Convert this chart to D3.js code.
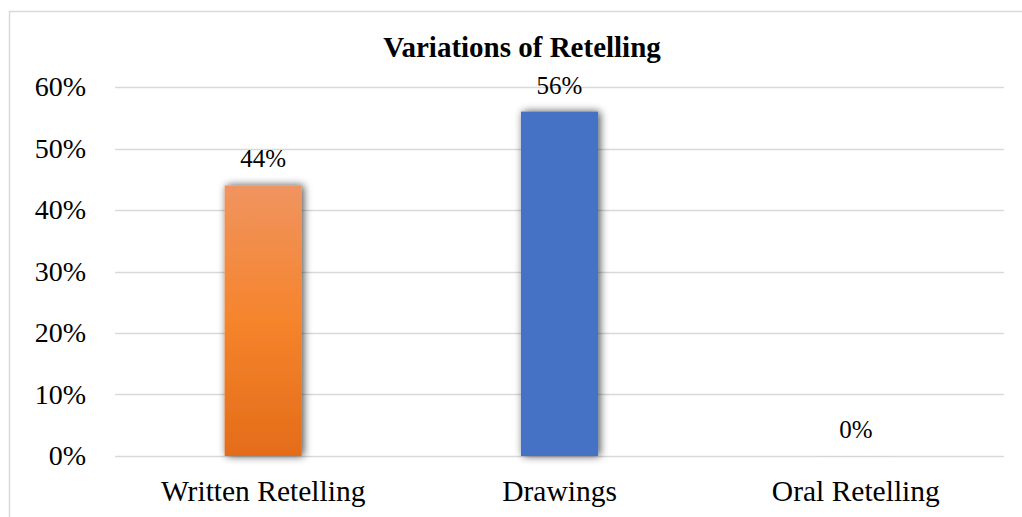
<!DOCTYPE html>
<html>
<head>
<meta charset="utf-8">
<script src="https://cdn.jsdelivr.net/npm/d3@7"></script>
<style>
  body { margin: 0; background: #fff; }
  svg text { font-family: "Liberation Serif", "DejaVu Serif", serif; }
</style>
</head>
<body>
<div id="chart"></div>
<script>
// chart data
var categories = ['Written Retelling', 'Drawings', 'Oral Retelling'];
var values = [0.44, 0.56, 0.00];
var yTicks = [0, 0.1, 0.2, 0.3, 0.4, 0.5, 0.6];

var width = 1022, height = 517;
var margin = { top: 87, right: 18, bottom: 61, left: 115 };

var svg = d3.select('#chart').append('svg')
  .attr('width', width)
  .attr('height', height);

var defs = svg.append('defs');

//orange bar gets a vertical gradient
var grad = defs.append('linearGradient')
  .attr('id', 'orangeGrad')
  .attr('x1', 0).attr('y1', 0).attr('x2', 0).attr('y2', 1);
grad.append('stop').attr('offset', '0%').attr('stop-color', '#f09460');
grad.append('stop').attr('offset', '50%').attr('stop-color', '#f5842c');
grad.append('stop').attr('offset', '100%').attr('stop-color', '#e46c19');

//soft shadow around the bars
var shadow = defs.append('filter')
  .attr('id', 'shadow')
  .attr('x', '-30%').attr('y', '-30%')
  .attr('width', '160%').attr('height', '160%');
shadow.append('feGaussianBlur').attr('in', 'SourceAlpha').attr('stdDeviation', 4);
shadow.append('feOffset').attr('dx', 1.5).attr('dy', 0).attr('result', 'blur');
shadow.append('feComponentTransfer').append('feFuncA').attr('type', 'linear').attr('slope', 0.7);
var merge = shadow.append('feMerge');
merge.append('feMergeNode');
merge.append('feMergeNode').attr('in', 'SourceGraphic');

//outer chart border
svg.append('rect')
  .attr('x', 9.5).attr('y', 11.5)
  .attr('width', 1030).attr('height', 600)
  .attr('fill', 'none')
  .attr('stroke', '#d9d9d9')
  .attr('stroke-width', 1.5);

var x = d3.scaleBand()
  .domain(categories)
  .range([margin.left, width - margin.right])
  .paddingInner(0.74)
  .paddingOuter(0.37);

var y = d3.scaleLinear()
  .domain([0, 0.6])
  .range([height - margin.bottom, margin.top]);

//gridlines
svg.append('g')
  .selectAll('line')
  .data(yTicks)
  .enter()
  .append('line')
  .attr('x1', margin.left)
  .attr('x2', width - margin.right)
  .attr('y1', function (d) { return Math.round(y(d)) + 0.5; })
  .attr('y2', function (d) { return Math.round(y(d)) + 0.5; })
  .attr('stroke', '#d9d9d9')
  .attr('stroke-width', 1.5);

//y axis labels
var yAxis = d3.axisLeft(y)
  .tickValues(yTicks)
  .tickFormat(d3.format('.0%'))
  .tickSize(0)
  .tickPadding(29);

svg.append('g')
  .attr('transform', 'translate(' + margin.left + ',0)')
  .call(yAxis)
  .call(function (g) { g.select('.domain').remove(); })
  .selectAll('text')
  .attr('font-size', 28)
  .attr('fill', '#000');

//x axis labels
var xAxis = d3.axisBottom(x).tickSize(0).tickPadding(24);

svg.append('g')
  .attr('transform', 'translate(0,' + (height - margin.bottom) + ')')
  .call(xAxis)
  .call(function (g) { g.select('.domain').remove(); })
  .selectAll('text')
  .attr('font-size', 29.5)
  .attr('fill', '#000');

var barColors = ['url(#orangeGrad)', '#4472c4', '#a5a5a5'];

//bars
svg.append('g')
  .selectAll('rect')
  .data(values)
  .enter()
  .append('rect')
  .attr('x', function (d, i) { return x(categories[i]); })
  .attr('y', function (d) { return y(d); })
  .attr('width', x.bandwidth())
  .attr('height', function (d) { return Math.max(0.5, y(0) - y(d)); })
  .attr('fill', function (d, i) { return barColors[i]; })
  .attr('fill-opacity', function (d) { return d > 0 ? 1 : 0.1; })
  .attr('filter', 'url(#shadow)');

//value labels
svg.append('g')
  .selectAll('text')
  .data(values)
  .enter()
  .append('text')
  .attr('x', function (d, i) { return x(categories[i]) + x.bandwidth() / 2; })
  .attr('y', function (d) { return y(d) - 18; })
  .attr('text-anchor', 'middle')
  .attr('font-size', 25)
  .attr('fill', '#000')
  .text(function (d) { return d3.format('.0%')(d); });

//title
svg.append('text')
  .attr('x', 522)
  .attr('y', 57)
  .attr('text-anchor', 'middle')
  .attr('font-size', 29)
  .attr('font-weight', 'bold')
  .attr('fill', '#000')
  .text('Variations of Retelling');
</script>
</body>
</html>
